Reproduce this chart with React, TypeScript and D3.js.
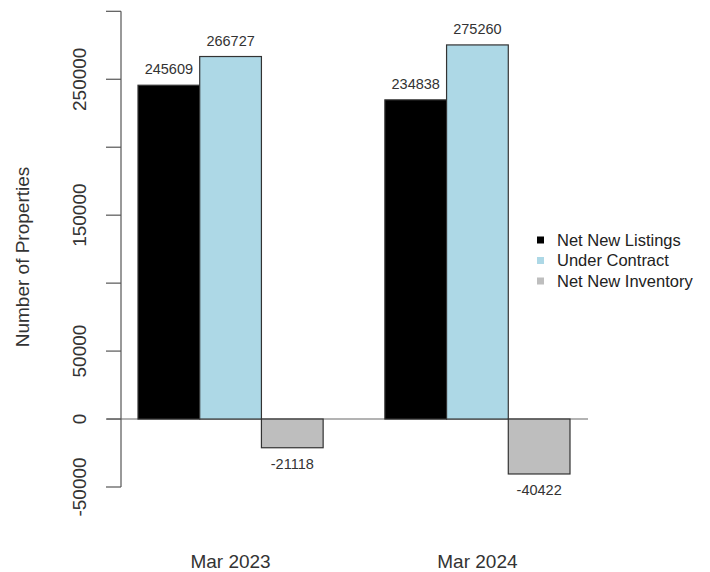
import React from "react";
import * as d3 from "d3";

const categories = ["Mar 2023", "Mar 2024"];
const seriesNames = ["Net New Listings", "Under Contract", "Net New Inventory"];
const netNewListings = [245609, 234838];
const underContract = [266727, 275260];
const netNewInventory = [-21118, -40422];
const yTicks = [-50000, 0, 50000, 100000, 150000, 200000, 250000, 300000];
const yTickLabels = ["-50000", "0", "50000", "", "150000", "", "250000", ""];
const colors = ["#000000", "#ADD8E6", "#BEBEBE"];

const W = 710;
const H = 572;
const FONT = "'Liberation Sans', Arial, Helvetica, sans-serif";

export default function App() {
  const series = [netNewListings, underContract, netNewInventory];
  const y = d3.scaleLinear().domain([-50000, 300000]).range([487, 11.3]);
  // slot scale: each bar one unit, one empty unit between groups
  const slot = d3.scaleLinear().domain([1, 8]).range([138, 570]);
  const unit = slot(2) - slot(1);
  const barX = (g: number, s: number) => slot(1 + g * 4 + s);
  const groupCenter = (g: number) => barX(g, 0) + (3 * unit) / 2;
  const axisX = 121;

  return (
    <svg
      width={W}
      height={H}
      style={{ position: "absolute", left: 0, top: 0, background: "#fff" }}
      fontFamily={FONT}
    >
      {/* zero line */}
      <line x1={107} x2={588} y1={y(0)} y2={y(0)} stroke="#9a9a9a" strokeWidth={1.5} />
      {/* bars */}
      {categories.map((c, g) =>
        series.map((vals, s) => {
          const v = vals[g];
          const x0 = barX(g, s);
          const top = y(Math.max(0, v));
          const bot = y(Math.min(0, v));
          return (
            <g key={c + s}>
              <rect
                x={x0}
                y={top}
                width={unit}
                height={bot - top}
                fill={colors[s]}
                stroke="#333"
                strokeWidth={1.2}
              />
              <text
                x={x0 + unit / 2}
                y={v >= 0 ? top - 16 : bot + 16}
                dy="0.35em"
                textAnchor="middle"
                fontSize={14.5}
                fill="#333"
              >
                {String(v)}
              </text>
            </g>
          );
        })
      )}
      {/* y axis */}
      <line x1={axisX} x2={axisX} y1={y(yTicks[0])} y2={y(yTicks[yTicks.length - 1])} stroke="#555" strokeWidth={1.2} />
      {yTicks.map((t, i) => (
        <g key={t}>
          <line x1={axisX - 15} x2={axisX} y1={y(t)} y2={y(t)} stroke="#555" strokeWidth={1.2} />
          {yTickLabels[i] && (
            <text
              transform={`translate(79,${y(t)}) rotate(-90)`}
              dy="0.35em"
              textAnchor="middle"
              fontSize={19}
              fill="#333"
            >
              {yTickLabels[i]}
            </text>
          )}
        </g>
      ))}
      <text
        transform={`translate(22,257) rotate(-90)`}
        dy="0.35em"
        textAnchor="middle"
        fontSize={19}
        fill="#333"
      >
        Number of Properties
      </text>
      {/* group labels */}
      {categories.map((c, g) => (
        <text key={c} x={groupCenter(g)} y={561} dy="0.35em" textAnchor="middle" fontSize={19} fill="#333">
          {c}
        </text>
      ))}
      {/* legend */}
      {seriesNames.map((n, i) => {
        const ly = 240 + i * 20.5;
        return (
          <g key={n}>
            <rect x={537} y={ly - 3.5} width={7} height={7} fill={colors[i]} />
            <text x={557} y={ly} dy="0.35em" fontSize={16.5} fill="#222">
              {n}
            </text>
          </g>
        );
      })}
    </svg>
  );
}
